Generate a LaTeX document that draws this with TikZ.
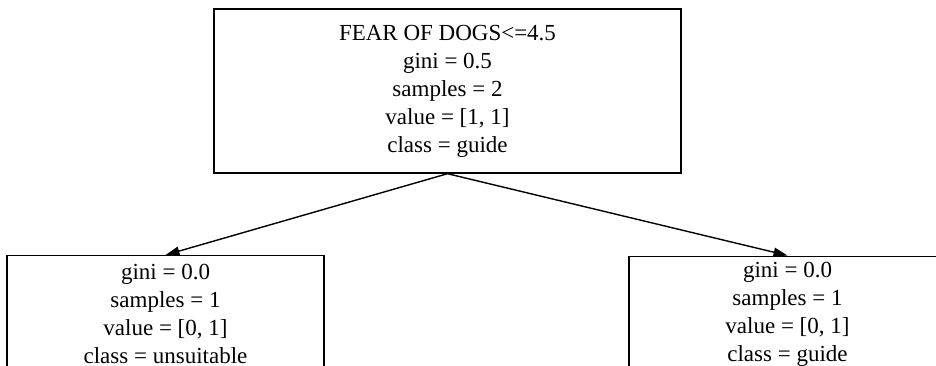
\documentclass[tikz,border=0pt]{standalone}
\usepackage{fontspec}
\setmainfont{Liberation Serif}
\usetikzlibrary{arrows.meta, positioning}
\definecolor{Ink}{HTML}{000000}
\definecolor{Paper}{HTML}{ffffff}
\tikzset{
    treebox/.style={draw=Ink, fill=Paper, line width=0.7pt, inner sep=0pt, align=center,
        font=\fontsize{11.5}{14}\selectfont},
    split/.style={Ink, line width=0.7pt, -{Triangle[length=7pt, width=4.5pt]}}
}

\begin{document}
\begin{tikzpicture}[x=0.5pt, y=0.5pt]
            \useasboundingbox (0, 0) rectangle (936, 365);
            \clip (0, 0) rectangle (936, 365);
            \fill[Paper] (0, 0) rectangle (936, 365);

            % Root Split
            \node[treebox, minimum width=233.5pt, minimum height=82pt] (root) at (447.5, 274)
                {FEAR OF DOGS<=4.5\\gini = 0.5\\samples = 2\\value = [1, 1]\\class = guide};

            % Leaves
            \node[treebox, minimum width=158.5pt, minimum height=58.5pt, anchor=north] (leafL) at (165.5, 110)
                {gini = 0.0\\samples = 1\\value = [0, 1]\\class = unsuitable};
            \node[treebox, minimum width=158.5pt, minimum height=58.5pt, anchor=north] (leafR) at (787.5, 109.5)
                {gini = 0.0\\samples = 1\\value = [0, 1]\\class = guide};

            \draw[split] (root.south) -- (leafL.north);
            \draw[split] (root.south) -- (leafR.north);
        \end{tikzpicture}
\end{document}
